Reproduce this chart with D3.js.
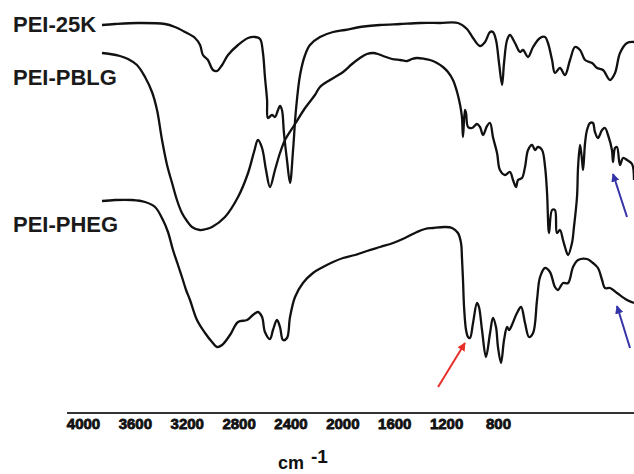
<!DOCTYPE html>
<html>
<head>
<meta charset="utf-8">
<script src="https://cdn.jsdelivr.net/npm/d3@7"></script>
<style>
  body { margin: 0; background: #fff; }
  svg { display: block; font-family: "Liberation Sans", Arial, sans-serif; }
  .spectrum { fill: none; stroke: #111; stroke-width: 2.3; stroke-linejoin: round; }
  .label { font-weight: bold; font-size: 22px; fill: #1a1a1a; }
  .tick text { font-weight: bold; font-size: 15px; fill: #111; stroke: #111; stroke-width: 0.8; }
</style>
</head>
<body>
<svg width="634" height="474"></svg>
<script>
// FTIR spectra: [wavenumber cm-1, relative transmittance]
const pei25k = [
  [4000,93.75],[3914,94],[3763,94.25],[3586,94],[3520,93.25],[3454,92],[3388,90.5],[3355,88.75],
  [3336,86.25],[3303,85],[3270,82.5],[3243,82.25],[3210,83.75],[3171,86.25],[3105,88.75],[3039,90.5],
  [2993,90.75],[2960,90.25],[2941,86.75],[2928,80.75],[2914,75],[2908,70.5],[2882,71.25],[2862,70.75],
  [2842,72.5],[2829,73.5],[2816,72.5],[2803,66.75],[2783,60],[2763,54.25],[2743,62.5],[2724,72.5],
  [2697,81.25],[2664,86.25],[2632,88.75],[2566,90.75],[2480,92],[2401,92.5],[2303,93.25],[2171,93.75],
  [2039,94],[1908,94.25],[1776,94.25],[1658,94.25],[1599,92.75],[1559,90.5],[1513,88.5],[1480,89.5],
  [1447,92],[1428,92],[1408,90],[1388,84.25],[1368,78.75],[1355,84.25],[1335,90],[1316,91.25],
  [1283,89.25],[1250,87],[1230,87.5],[1197,85.75],[1164,88.25],[1118,90.5],[1085,90.75],[1066,89.25],
  [1039,85],[1020,81.75],[987,83],[954,81.25],[921,85],[888,88.25],[855,87.5],[822,85],
  [776,84.25],[743,83],[704,82.5],[658,80],[625,81.75],[592,86.75],[546,89.25],[500,89.5]
];

const peiPblg = [
  [4000,86.75],[3947,86.5],[3882,86],[3829,85.25],[3770,83.75],[3717,80.75],[3671,77],[3638,72.5],
  [3605,65],[3572,58.75],[3539,54.25],[3507,50],[3474,46.75],[3441,44.75],[3408,43.25],[3355,42.5],
  [3316,42.75],[3276,43.25],[3191,45.75],[3105,50.75],[3039,56.75],[3000,62],[2974,65],[2947,63],
  [2921,57.5],[2895,53.25],[2862,57.5],[2829,61.75],[2796,65],[2730,69],[2664,73],[2599,76.25],
  [2566,78.25],[2500,80],[2414,82],[2355,84],[2303,85.5],[2257,86.5],[2217,86.75],[2184,86.5],
  [2151,86],[2092,85.25],[2039,85],[1993,84.75],[1960,85.25],[1928,85.5],[1875,85.25],[1842,85],
  [1796,84.25],[1757,83.25],[1724,82],[1691,80],[1664,77],[1644,73.75],[1632,70.75],[1625,65.75],
  [1612,72.5],[1605,71.75],[1592,68.25],[1566,68],[1533,69],[1513,68.25],[1493,66.25],[1467,68.5],
  [1447,69.25],[1428,65.75],[1401,61.75],[1382,57.5],[1349,56.25],[1316,57],[1296,55],[1276,53.25],
  [1263,55],[1237,55.5],[1217,58.25],[1197,62.5],[1171,63.75],[1151,62.5],[1132,63.25],[1105,62.5],
  [1085,58.25],[1072,51.75],[1059,41.75],[1039,47.5],[1020,47.5],[1007,41.75],[987,42.5],[967,40],
  [954,38.25],[934,36.25],[908,39.25],[895,43.25],[875,50.75],[868,58.25],[855,63.75],[842,60],
  [835,57.5],[822,64.25],[809,67.5],[789,69.25],[770,69.25],[757,67],[737,65.5],[710,67.5],
  [691,68],[671,66.25],[645,62.5],[638,59.5],[625,63],[612,63.25],[592,58.75],[572,60.5],
  [546,60],[513,59],[500,55]
];

const peiPheg = [
  [4000,49.75],[3914,50],[3803,50],[3717,49.5],[3651,48.25],[3599,45],[3566,42],[3533,37.5],
  [3500,33.75],[3474,30.75],[3447,27.5],[3421,25],[3375,20],[3322,16.75],[3276,14.5],[3243,13.25],
  [3210,13.75],[3158,16.25],[3105,19.5],[3046,20],[3007,21.25],[2974,22],[2947,20.75],[2928,17],
  [2895,15.25],[2875,17.5],[2849,20],[2829,18.25],[2809,15],[2783,15.5],[2763,20.75],[2730,25.75],
  [2678,29.25],[2612,31.75],[2546,33.25],[2480,34.5],[2414,35.5],[2335,36.25],[2257,37.25],[2171,38.25],
  [2085,39.25],[2007,40.5],[1928,42],[1875,42.75],[1822,43],[1743,43.25],[1697,43],[1658,41.75],
  [1638,39.25],[1632,35.75],[1625,30],[1618,23.25],[1605,17.5],[1592,15.75],[1579,15.5],[1559,19.25],
  [1533,24.25],[1520,23.25],[1500,17.5],[1474,10.75],[1447,16.75],[1428,20.5],[1408,18.25],[1395,13.25],
  [1375,9.25],[1355,15],[1335,18.25],[1322,17.5],[1303,18.75],[1270,21.75],[1243,23.25],[1217,19.25],
  [1191,15.75],[1164,16.75],[1138,25],[1118,30.75],[1085,33],[1053,32],[1020,28.25],[1000,27.5],
  [967,29.25],[934,29.25],[901,33.25],[868,35],[809,35.25],[770,34.25],[737,33],[710,30],
  [691,28],[658,28],[612,26.75],[546,25],[500,24.25]
];

const seriesNames = ["PEI-25K", "PEI-PBLG", "PEI-PHEG"];
const tickLabels = [4000, 3600, 3200, 2800, 2400, 2000, 1600, 1200, 800];

// arrows: [tail, tip] in data units
const arrowsRed = [[[1789,3.25],[1612,14.25]]];
const arrowsBlue = [[[546,45.75],[638,56.5]], [[526,13],[612,23.5]]];

const svg = d3.select("svg");

// spectra scale and printed axis scale do not line up in the original figure
const x = d3.scaleLinear().domain([4000, 500]).range([102, 634]);
const y = d3.scaleLinear().domain([0, 100]).range([400, 0]);
const xAxisScale = d3.scaleLinear().domain([4000, 800]).range([83, 498]);

const line = d3.line()
  .x(d => x(d[0]))
  .y(d => y(d[1]))
  .curve(d3.curveCatmullRom.alpha(0.5));

svg.selectAll(".spectrum")
  .data([pei25k, peiPblg, peiPheg])
  .enter()
  .append("path")
  .attr("class", "spectrum")
  .attr("d", line);

// labels on the left
const labelPos = [[13, 32], [13, 85], [13, 232]];
svg.selectAll(".label")
  .data(seriesNames)
  .enter()
  .append("text")
  .attr("class", "label")
  .attr("x", (d, i) => labelPos[i][0])
  .attr("y", (d, i) => labelPos[i][1])
  .text(d => d);

// arrow heads
const defs = svg.append("defs");
[["red", "#e8302a"], ["blue", "#3434a8"]].forEach(([id, col]) => {
  defs.append("marker")
    .attr("id", "head-" + id)
    .attr("viewBox", "0 0 10 10")
    .attr("refX", 9).attr("refY", 5)
    .attr("markerWidth", 4.2).attr("markerHeight", 4.2)
    .attr("orient", "auto")
    .append("path")
    .attr("d", "M0,0 L10,5 L0,10 z")
    .attr("fill", col);
});

function drawArrows(list, id, col) {
  svg.selectAll(".arrow-" + id)
    .data(list)
    .enter()
    .append("line")
    .attr("class", "arrow-" + id)
    .attr("x1", d => x(d[0][0])).attr("y1", d => y(d[0][1]))
    .attr("x2", d => x(d[1][0])).attr("y2", d => y(d[1][1]))
    .attr("stroke", col)
    .attr("stroke-width", 2)
    .attr("marker-end", "url(#head-" + id + ")");
}
drawArrows(arrowsRed, "red", "#e8302a");
drawArrows(arrowsBlue, "blue", "#3434a8");

// x axis
const axisY = 413;
svg.append("line")
  .attr("x1", 67).attr("x2", 634)
  .attr("y1", axisY).attr("y2", axisY)
  .attr("stroke", "#333")
  .attr("stroke-width", 2);

const gx = svg.append("g")
  .attr("transform", "translate(0," + axisY + ")")
  .call(d3.axisBottom(xAxisScale).tickValues(tickLabels).tickSize(0).tickPadding(5).tickFormat(d => d));
gx.select(".domain").remove();
gx.selectAll(".tick text").attr("font-family", null).attr("font-size", null);

const unit = svg.append("text")
  .attr("x", 278).attr("y", 469)
  .attr("font-weight", "bold").attr("font-size", 18).attr("fill", "#111");
unit.append("tspan").text("cm");
unit.append("tspan").attr("dx", 7).attr("dy", -6).attr("font-size", 19).text("-1");
</script>
</body>
</html>
